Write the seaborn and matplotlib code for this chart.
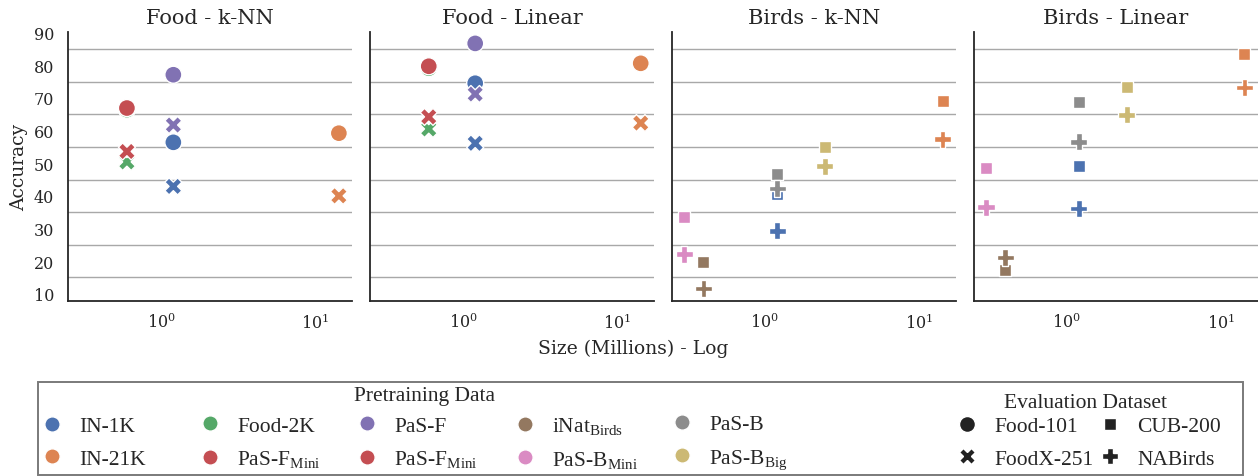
import matplotlib
matplotlib.use("Agg")
import matplotlib.pyplot as plt
from matplotlib.lines import Line2D
from matplotlib.patches import Rectangle
import pandas as pd
import seaborn as sns

# pretraining sets, listed in the same order as the "deep" palette colours them
pretrain = ["IN-1K", "IN-21K", "Food-2K", "PaS-F_Mini", "PaS-F",
            "iNat_Birds", "PaS-B_Mini", "PaS-B", "PaS-B_Big"]
size_millions = [1.2, 14.2, 0.6, 0.6, 1.2, 0.4, 0.3, 1.2, 2.45]

eval_sets = ["Food-101", "FoodX-251", "CUB-200", "NABirds"]

# food panels
food_models = ["IN-1K", "IN-21K", "Food-2K", "PaS-F_Mini", "PaS-F"]
food_knn_food101 = [56.4, 59.2, 66.4, 66.9, 77.1]
food_knn_foodx = [42.9, 40.0, 50.4, 53.6, 61.7]
food_lin_food101 = [74.5, 80.6, 79.1, 79.7, 86.7]
food_lin_foodx = [56.1, 62.3, 60.5, 64.2, 71.2]

# bird panels
bird_models = ["IN-1K", "IN-21K", "iNat_Birds", "PaS-B_Mini", "PaS-B", "PaS-B_Big"]
birds_knn_cub = [40.5, 69.1, 19.8, 33.4, 46.6, 54.9]
birds_knn_nab = [29.3, 57.4, 11.6, 22.1, 42.3, 49.1]
birds_lin_cub = [49.2, 83.5, 17.3, 48.6, 68.8, 73.4]
birds_lin_nab = [36.1, 73.2, 21.1, 36.5, 56.6, 64.8]

panel_titles = ["Food - k-NN", "Food - Linear", "Birds - k-NN", "Birds - Linear"]

# legend labels (the original repeats PaS-F Mini in the third column)
legend_pretrain = ["IN-1K", "IN-21K", "Food-2K", r"PaS-F$_{\rm Mini}$", "PaS-F",
                   r"PaS-F$_{\rm Mini}$", r"iNat$_{\rm Birds}$", r"PaS-B$_{\rm Mini}$",
                   "PaS-B", r"PaS-B$_{\rm Big}$"]
legend_pretrain_color = [0, 1, 2, 3, 4, 3, 5, 6, 7, 8]


def build_frame(models, first_eval, first_vals, second_eval, second_vals):
    # one row per point, model by model so the overlaps match the original
    rows = []
    for i, m in enumerate(models):
        size = size_millions[pretrain.index(m)]
        rows.append({"pretrain": m, "eval": first_eval, "size": size, "acc": first_vals[i]})
        rows.append({"pretrain": m, "eval": second_eval, "size": size, "acc": second_vals[i]})
    return pd.DataFrame(rows)


frames = [
    build_frame(food_models, "Food-101", food_knn_food101, "FoodX-251", food_knn_foodx),
    build_frame(food_models, "Food-101", food_lin_food101, "FoodX-251", food_lin_foodx),
    build_frame(bird_models, "CUB-200", birds_knn_cub, "NABirds", birds_knn_nab),
    build_frame(bird_models, "CUB-200", birds_lin_cub, "NABirds", birds_lin_nab),
]

sns.set_theme(style="white")
plt.rcParams["font.family"] = ["DejaVu Serif"]
plt.rcParams["mathtext.fontset"] = "custom"
plt.rcParams["mathtext.rm"] = "Liberation Serif"
plt.rcParams["mathtext.it"] = "Liberation Serif:italic"
plt.rcParams["mathtext.bf"] = "Liberation Serif:bold"

palette = sns.color_palette("deep", 9)
marker_map = {"Food-101": "o", "FoodX-251": "X", "CUB-200": (4, 0, 45), "NABirds": "P"}
text_color = "#262626"

W, H = 1258, 477
fig, axes = plt.subplots(1, 4, figsize=(W / 100, H / 100), dpi=100, sharey=True)
fig.subplots_adjust(left=68 / W, right=1.0, bottom=1 - 302 / H, top=1 - 33.3 / H, wspace=0.061)

for ax, df, title in zip(axes, frames, panel_titles):
    sns.scatterplot(data=df, x="size", y="acc", hue="pretrain", hue_order=pretrain,
                    palette=palette, style="eval", style_order=eval_sets,
                    markers=marker_map, s=150, legend=False, ax=ax)
    ax.set_xscale("log")
    ax.set_xlim(0.249, 17.4)
    ax.set_ylim(7.8, 90.1)
    ax.set_yticks(range(10, 100, 10))
    ax.set_yticks(range(15, 90, 10), minor=True)
    ax.grid(False)
    ax.grid(which="minor", axis="y", color="#a8a8a8", linewidth=1.0)
    ax.tick_params(which="both", length=0)
    ax.tick_params(axis="y", pad=10, labelsize=11.5, labelcolor=text_color)
    ax.tick_params(axis="x", pad=8, labelsize=11.5, labelcolor=text_color)
    ax.set_xlabel("")
    ax.set_ylabel("")
    ax.set_title(title, fontsize=15, color=text_color, pad=7)
    for side in ["left", "bottom"]:
        ax.spines[side].set_color(text_color)
        ax.spines[side].set_linewidth(1.3)
    sns.despine(ax=ax)

axes[0].set_ylabel("Accuracy", fontsize=13.5, color=text_color)
fig.text(633 / W, 1 - 349 / H, "Size (Millions) - Log", ha="center", va="center",
         fontsize=13.5, color=text_color)

# legend frame around both legends
fig.add_artist(Rectangle((38 / W, 1 - 476 / H), (1243 - 38) / W, (476 - 383) / H,
                         transform=fig.transFigure, fill=False,
                         edgecolor="#7a7a7a", linewidth=1.4))

legend_font = {"family": "Liberation Serif", "size": 15.5}

fig.text(425 / W, 1 - 397 / H, "Pretraining Data", ha="center", va="center",
         fontfamily="Liberation Serif", fontsize=15.5, color=text_color)
fig.text(1086 / W, 1 - 404 / H, "Evaluation Dataset", ha="center", va="center",
         fontfamily="Liberation Serif", fontsize=15.5, color=text_color)

# pretraining legend: one small legend per column so the columns are evenly spaced
col_x = [52, 210, 367, 525, 682]
for c in range(5):
    handles = []
    labels = []
    for r in range(2):
        k = c * 2 + r
        handles.append(Line2D([], [], linestyle="", marker="o", markersize=11,
                              markerfacecolor=palette[legend_pretrain_color[k]],
                              markeredgecolor="white"))
        labels.append(legend_pretrain[k])
    fig.legend(handles, labels, loc="center left",
               bbox_to_anchor=((col_x[c] - 10.7) / W, 1 - 443.5 / H),
               frameon=False, borderpad=0, borderaxespad=0, handlelength=1.0,
               handletextpad=0.75, labelspacing=0.6, prop=legend_font,
               labelcolor=text_color)

# evaluation dataset legend
eval_handles = [Line2D([], [], linestyle="", marker=marker_map[e], markersize=11.5,
                       markerfacecolor="#222222", markeredgecolor="white")
                for e in eval_sets]
fig.legend(eval_handles, eval_sets, ncol=2, loc="center left",
           bbox_to_anchor=((967 - 10.7) / W, 1 - 443.5 / H),
           frameon=False, borderpad=0, borderaxespad=0, handlelength=1.0,
           handletextpad=0.75, labelspacing=0.6, columnspacing=0.3,
           prop=legend_font, labelcolor=text_color)

fig.savefig("out.png", dpi=100)
